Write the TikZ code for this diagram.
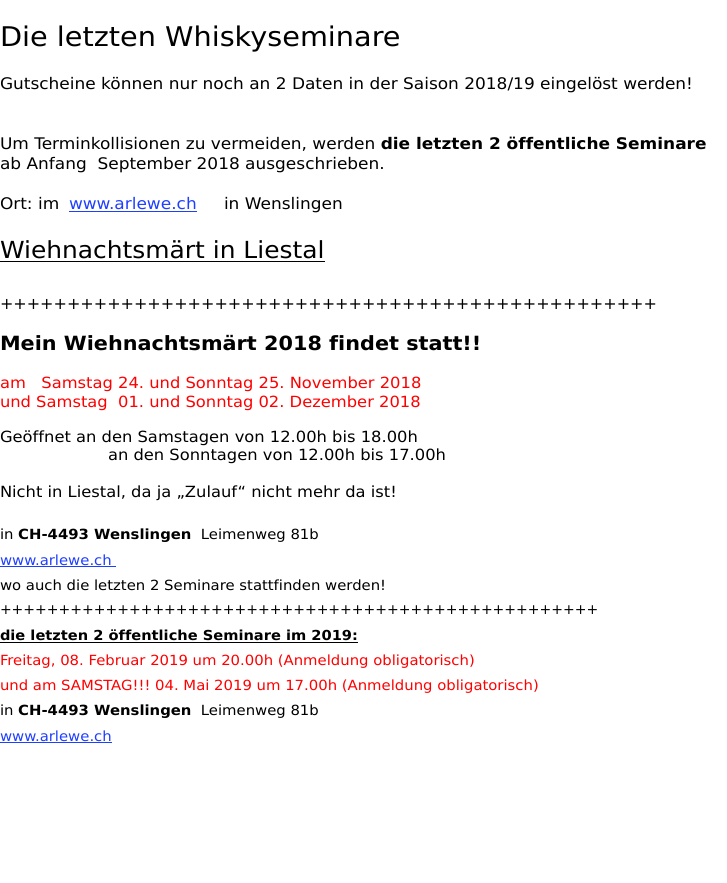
\documentclass[tikz,border=0pt]{standalone}
\usepackage{fontspec}
\setmainfont[Ligatures={NoCommon}, FakeStretch=1.06]{DejaVu Sans}
\newfontfamily\plusfont{DejaVu Sans}
\usepackage{xcolor}
\usepackage{tikz}
\usetikzlibrary{positioning}
\definecolor{linkblue}{RGB}{31,63,255}
\definecolor{datered}{RGB}{255,0,0}
\tikzstyle{txt} = [anchor=base west, inner sep=0pt, outer sep=0pt, font=\fontsize{16}{19}\selectfont]
\tikzstyle{mid} = [txt, font=\fontsize{15.4}{18}\selectfont]
\tikzstyle{small} = [txt, font=\fontsize{14}{17}\selectfont]
\tikzstyle{link} = [text=linkblue]
\tikzstyle{ul} = [draw, line width=1pt]
\newcommand{\plusrow}[1]{\plusfont\foreach \i in {1,...,#1}{+}}
\frenchspacing

\begin{document}
\begin{tikzpicture}[x=1pt, y=-1pt]
    \useasboundingbox (0,0) rectangle (726,883);
    % nodes
    \node [txt, font=\fontsize{27.1}{32}\selectfont] (title) at (0,47) {Die letzten Whiskyseminare};
    \node [txt] (gut) at (0,89) {Gutscheine können nur noch an 2 Daten in der Saison 2018/19 eingelöst werden!};
    \node [txt] (termin) at (0,149) {Um Terminkollisionen zu vermeiden, werden \textbf{die letzten 2 öffentliche Seminare}};
    \node [txt] (anfang) at (0,169) {ab Anfang\ \ September 2018 ausgeschrieben.};
    \node [txt] (ort) at (0,209) {Ort: im};
    \node [txt, link] (ortlink) at (69,209) {www.arlewe.ch};
    \node [txt] (ortwens) at (224,209) {in Wenslingen};
    \node [txt, font=\fontsize{23.5}{28}\selectfont] (liestal) at (0,258) {Wiehnachtsmärt in Liestal};
    \node [txt] (plusa) at (0,309) {\plusrow{49}};
    \node [txt, font=\bfseries\fontsize{19.6}{24}\selectfont] (mein) at (0,350) {Mein Wiehnachtsmärt 2018 findet statt!!};
    \node [mid, text=datered] (nov) at (0,388) {am\ \ \ Samstag 24. und Sonntag 25. November 2018};
    \node [mid, text=datered] (dez) at (0,407) {und Samstag\ \ 01. und Sonntag 02. Dezember 2018};
    \node [mid] (samst) at (0,442) {Geöffnet an den Samstagen von 12.00h bis 18.00h};
    \node [mid] (sonnt) at (108,460) {an den Sonntagen von 12.00h bis 17.00h};
    \node [mid] (zulauf) at (0,497) {Nicht in Liestal, da ja „Zulauf“ nicht mehr da ist!};
    \node [small] (adra) at (0,539) {in \textbf{CH-4493 Wenslingen}\ \ Leimenweg 81b};
    \node [small, link] (weba) at (0,565) {www.arlewe.ch\hbox{\ }};
    \node [small] (woauch) at (0,590) {wo auch die letzten 2 Seminare stattfinden werden!};
    \node [small] (plusb) at (0,614.5) {\plusrow{51}};
    \node [small, font=\bfseries\fontsize{13.8}{17}\selectfont] (sem) at (0,640) {die letzten 2 öffentliche Seminare im 2019:};
    \node [small, text=datered] (feb) at (0,665.7) {Freitag, 08. Februar 2019 um 20.00h (Anmeldung obligatorisch)};
    \node [small, text=datered] (mai) at (0,690.7) {und am SAMSTAG!!! 04. Mai 2019 um 17.00h (Anmeldung obligatorisch)};
    \node [small] (adrb) at (0,715) {in \textbf{CH-4493 Wenslingen}\ \ Leimenweg 81b};
    \node [small, link] (webb) at (0,741) {www.arlewe.ch};

    % underlines
    \draw [ul, linkblue] ([yshift=-2pt]ortlink.base west) -- ([yshift=-2pt]ortlink.base east);
    \draw [ul, black] ([yshift=-3.5pt]liestal.base west) -- ([yshift=-3.5pt]liestal.base east);
    \draw [ul, linkblue] ([yshift=-1.7pt]weba.base west) -- ([yshift=-1.7pt]weba.base east);
    \draw [ul, black, line width=1.2pt] ([yshift=-2.5pt]sem.base west) -- ([yshift=-2.5pt]sem.base east);
    \draw [ul, linkblue] ([yshift=-1.7pt]webb.base west) -- ([yshift=-1.7pt]webb.base east);
\end{tikzpicture}
\end{document}
